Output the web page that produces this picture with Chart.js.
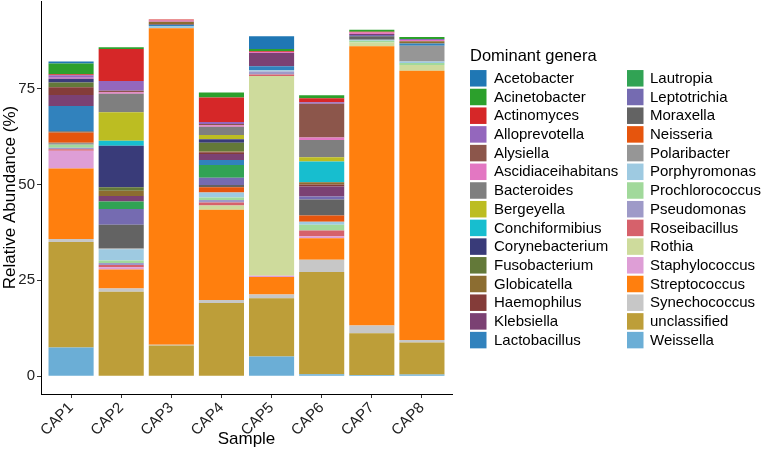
<!DOCTYPE html>
<html>
<head>
<meta charset="utf-8">
<script src="https://cdn.jsdelivr.net/npm/chart.js@4.4.1/dist/chart.umd.min.js"></script>
<style>
html,body{margin:0;padding:0;background:#fff;}
canvas{display:block;}
</style>
</head>
<body>
<canvas id="c" width="762" height="458" style="width:762px;height:458px"></canvas>
<script>
const samples = ['CAP1','CAP2','CAP3','CAP4','CAP5','CAP6','CAP7','CAP8'];
const genera = ['Acetobacter','Acinetobacter','Actinomyces','Alloprevotella','Alysiella','Ascidiaceihabitans','Bacteroides','Bergeyella','Conchiformibius','Corynebacterium','Fusobacterium','Globicatella','Haemophilus','Klebsiella','Lactobacillus','Lautropia','Leptotrichia','Moraxella','Neisseria','Polaribacter','Porphyromonas','Prochlorococcus','Pseudomonas','Roseibacillus','Rothia','Staphylococcus','Streptococcus','Synechococcus','unclassified','Weissella'];
const colors = ['#1F77B4','#2CA02C','#D62728','#9467BD','#8C564B','#E377C2','#7F7F7F','#BCBD22','#17BECF','#393B79','#637939','#8C6D31','#843C39','#7B4173','#3182BD','#31A354','#756BB1','#636363','#E6550D','#969696','#9ECAE1','#A1D99B','#9E9AC8','#D6616B','#CEDB9C','#DE9ED6','#FF7F0E','#C7C7C7','#BD9E39','#6BAED6'];
// values per sample, in the legend (genera) order
const cap1 = [0.5,2.8,0.3,0.6,0,0.3,0,0,0,1.0,1.2,0,2.0,2.9,6.6,0,0,0.3,2.7,0.5,0,0.8,0.4,0.4,0,4.6,18.4,0.8,27.5,7.5];
const cap2 = [0,0.4,8.4,2.5,0.4,0.4,4.8,7.5,1.3,10.8,0.9,1.4,0,1.4,0,2.0,4.1,6.1,0,0.3,2.9,0.7,0.5,0.6,0,0.6,4.9,0.9,22.0,0];
const cap3 = [0,0,0.3,0,0,0.3,0,0,0,0,0,0.6,0.2,0,0.3,0,0,0,0,0,0.6,0,0,0,0,0,82.6,0.2,8.0,0];
const cap4 = [0,1.3,6.4,0.5,0.3,0.4,2.2,1.1,0,0.9,2.3,0.2,0.4,1.6,1.3,3.3,1.9,0.6,1.4,0,1.3,0.6,0.7,0.8,1.1,0,23.5,0.8,19.1,0];
const cap5 = [3.3,0.6,0.2,0,0,0.3,0,0,0,0,0,0,0,3.4,1.1,0,0,0,0,0,0.3,0,0.8,0.4,52.1,0.3,4.6,1.0,15.2,5.1];
const cap6 = [0,0.8,1.0,0.4,8.8,0.7,4.5,1.1,5.4,0,0,0.6,0.5,2.6,0,0,0.8,4.2,1.6,0,0.8,1.5,0,1.5,0,0.5,5.6,3.2,26.7,0.5];
const cap7 = [0,0.5,0.2,0,0,0.4,0,0,0,0,0,0,0,0.3,0,0,0.3,0.9,0,0,0.3,0.4,0,0,1.0,0,72.9,2.0,10.9,0.3];
const cap8 = [0,0.5,0,0.3,0,0.3,0,0,0,0,0,0.6,0,0,0.6,0,0,0,0,4.1,0.4,0.5,0,0,1.5,0,70.3,0.6,8.4,0.4];
const yTicks = [0,25,50,75];

const table = [cap1,cap2,cap3,cap4,cap5,cap6,cap7,cap8];
const FONT = "'Liberation Sans', Arial, sans-serif";

// stacking: last genus at the bottom, first genus on top
const datasets = [];
for (let g = genera.length - 1; g >= 0; g--) {
  datasets.push({
    label: genera[g],
    backgroundColor: colors[g],
    borderWidth: 0,
    data: table.map((row, i) => ({x: i + 1, y: row[g]}))
  });
}

const legendPlugin = {
  id: 'ggLegend',
  afterDraw(chart) {
    const c = chart.ctx;
    c.save();
    c.fillStyle = '#000';
    c.font = '16.5px ' + FONT;
    c.textBaseline = 'middle';
    c.textAlign = 'left';
    c.fillText('Dominant genera', 470, 56);
    const perCol = 15, step = 18.7, y0 = 78.3, sw = 16.5;
    const colX = [470, 627], txtX = [494, 650];
    c.font = '15px ' + FONT;
    genera.forEach((g, i) => {
      const col = Math.floor(i / perCol), row = i % perCol;
      const cy = y0 + row * step;
      c.fillStyle = colors[i];
      c.fillRect(colX[col], cy - sw / 2, sw, sw);
      c.fillStyle = '#000';
      c.fillText(g, txtX[col], cy + 0.5);
    });
    c.restore();
  }
};

new Chart(document.getElementById('c'), {
  type: 'bar',
  data: { datasets },
  plugins: [legendPlugin],
  options: {
    responsive: false,
    animation: false,
    layout: { padding: { left: 0, right: 310, top: 1, bottom: 0 } },
    datasets: { bar: { barPercentage: 0.9, categoryPercentage: 1.0 } },
    plugins: { legend: { display: false }, tooltip: { enabled: false } },
    scales: {
      x: {
        type: 'linear', min: 0.4, max: 8.6, stacked: true, offset: false,
        afterBuildTicks: s => { s.ticks = samples.map((_, i) => ({ value: i + 1 })); },
        afterFit: s => { s.height = 64; s.paddingLeft = 0; s.paddingRight = 0; },
        ticks: {
          callback: v => samples[v - 1],
          minRotation: 45, maxRotation: 45, autoSkip: false,
          font: { size: 15, family: FONT }, color: '#222', padding: 1
        },
        grid: { display: true, offset: false, drawOnChartArea: false, drawTicks: true, tickLength: 4, color: '#333' },
        border: { display: true, color: '#000', width: 1 },
        title: { display: true, text: 'Sample', font: { size: 17, family: FONT }, color: '#000', padding: { top: 0, bottom: 8 } }
      },
      y: {
        type: 'linear', min: -4.66, max: 97.9, stacked: true,
        afterBuildTicks: s => { s.ticks = yTicks.map(v => ({ value: v })); },
        afterFit: s => { s.width = 41; s.paddingTop = 0; s.paddingBottom = 0; },
        ticks: { font: { size: 15, family: FONT }, color: '#222', padding: 2 },
        grid: { display: true, drawOnChartArea: false, drawTicks: true, tickLength: 4, color: '#333' },
        border: { display: true, color: '#000', width: 1 },
        title: { display: true, text: 'Relative Abundance (%)', font: { size: 17, family: FONT }, color: '#000', padding: { top: 0, bottom: 0 } }
      }
    }
  }
});
</script>
</body>
</html>
